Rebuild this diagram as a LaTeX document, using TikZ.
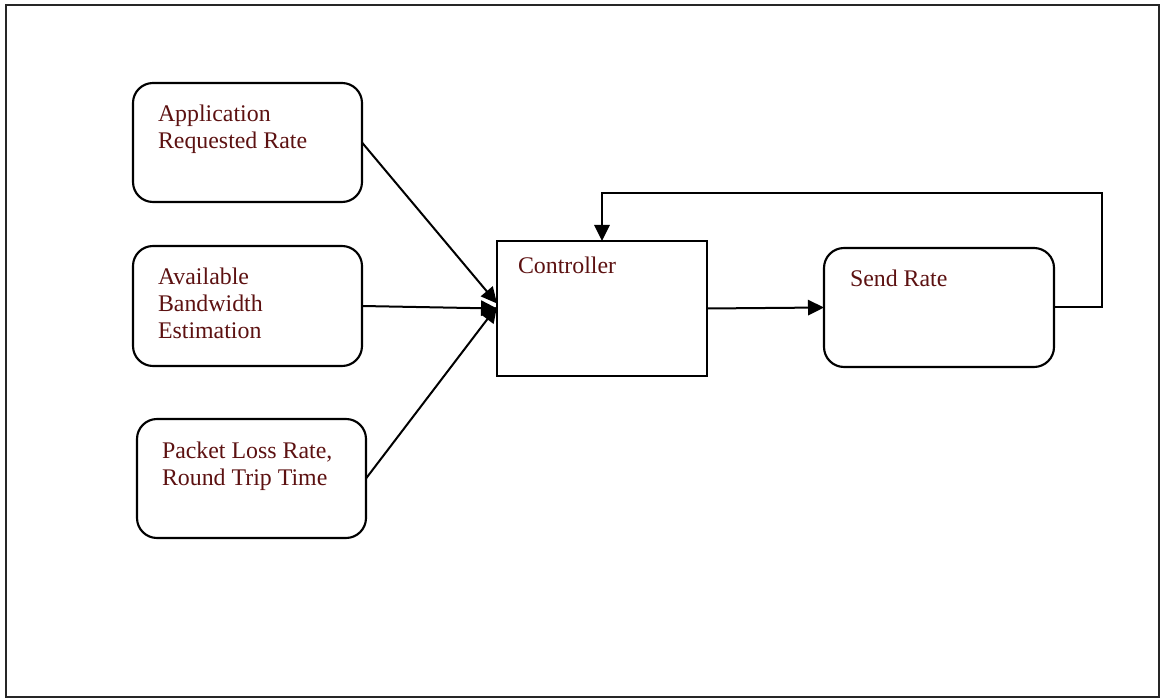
\documentclass[tikz,border=0pt]{standalone}
\usepackage{fontspec}
\setmainfont{Liberation Serif}
\usetikzlibrary{arrows.meta,calc}
\definecolor{labelred}{RGB}{92,17,17}
\begin{document}
\begin{tikzpicture}[x=0.75pt,y=-0.75pt,
  every node/.style={inner sep=0pt,outer sep=0pt},
  roundbox/.style={draw,line width=1.6pt,rounded corners=15pt,rectangle},
  plainbox/.style={draw,line width=1.6pt,rectangle},
  boxtext/.style={anchor=base west,align=left,text=labelred,
    font=\fontsize{17.9}{20.25}\selectfont},
  flow/.style={line width=1.5pt,-{Triangle[length=12pt,width=11.5pt]}}]
  \useasboundingbox (0,0) rectangle (1160,698);
  % outer frame
  \draw[line width=1.6pt,black!85] (6,5) rectangle (1159,697);

  % input boxes
  \node[roundbox,minimum width=171.75pt,minimum height=89.25pt] (app) at (247.5,142.5) {};
  \node[roundbox,minimum width=171.75pt,minimum height=90pt] (bw) at (247.5,306) {};
  \node[roundbox,minimum width=171.75pt,minimum height=89.25pt] (pl) at (251.5,478.5) {};
  % controller and output
  \node[plainbox,minimum width=157.5pt,minimum height=101.25pt] (ctrl) at (602,308.5) {};
  \node[roundbox,minimum width=172.5pt,minimum height=89.25pt] (send) at (939,307.5) {};

  % labels (anchored on the baseline of the last line)
  \node[boxtext] (apptext) at (158,149) {Application\\Requested Rate};
  \node[boxtext] (bwtext) at (158,339) {Available\\Bandwidth\\Estimation};
  \node[boxtext] (pltext) at (162,485) {Packet Loss Rate,\\Round Trip Time};
  \node[boxtext] (ctrltext) at (518,274) {Controller};
  \node[boxtext] (sendtext) at (850,287) {Send Rate};

  % connectors
  \draw[flow] (app.east) -- ($(ctrl.west)+(0,-5)$);
  \draw[flow] (bw.east) -- (ctrl.west);
  \draw[flow] (pl.east) -- ($(ctrl.west)+(0,-2)$);
  \draw[flow] (ctrl.east) -- (send.west);
  \coordinate (loopcorner) at (1102,193);
  \draw[flow] (send.east) -| (loopcorner) -| (ctrl.north);
\end{tikzpicture}
\end{document}
